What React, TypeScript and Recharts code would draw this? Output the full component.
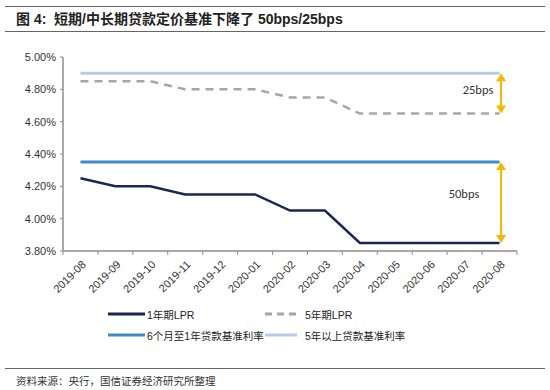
import React from 'react';
import { LineChart, Line, XAxis, YAxis, ReferenceLine } from 'recharts';

const months = ['2019-08','2019-09','2019-10','2019-11','2019-12','2020-01','2020-02','2020-03','2020-04','2020-05','2020-06','2020-07','2020-08'];
const lpr1y = [4.25,4.20,4.20,4.15,4.15,4.15,4.05,4.05,3.85,3.85,3.85,3.85,3.85];
const lpr5y = [4.85,4.85,4.85,4.80,4.80,4.80,4.75,4.75,4.65,4.65,4.65,4.65,4.65];
const base6m1y = [4.35,4.35,4.35,4.35,4.35,4.35,4.35,4.35,4.35,4.35,4.35,4.35,4.35];
const base5yPlus = [4.90,4.90,4.90,4.90,4.90,4.90,4.90,4.90,4.90,4.90,4.90,4.90,4.90];
const yTicks = [3.8, 4.0, 4.2, 4.4, 4.6, 4.8, 5.0];
const arrows = [
  { label: '25bps', from: 4.90, to: 4.65 },
  { label: '50bps', from: 4.35, to: 3.85 },
];
const labelOffsets: Record<string, { dx: number; dy: number }> = {
  '25bps': { dx: -23, dy: -2 },
  '50bps': { dx: -37, dy: -7 },
};

const data = months.map((m, i) => ({
  month: m,
  lpr1y: lpr1y[i],
  lpr5y: lpr5y[i],
  base6m1y: base6m1y[i],
  base5yPlus: base5yPlus[i],
}));

const FONT = "'Liberation Sans', Arial, 'Noto Sans CJK SC', sans-serif";
const C_NAVY = '#1b2653';
const C_GREY = '#a6a6a6';
const C_MID = '#3f8bc9';
const C_LIGHT = '#b7cbe6';
const C_YELLOW = '#f5b700';
const AXIS = '#8c8c8c';

const CHART_W = 550;
const CHART_H = 300;
const MARGIN = { top: 57, right: 33, left: 0, bottom: 0 };
const Y_W = 63;
const BAND = (CHART_W - MARGIN.right - Y_W) / months.length;

const XTick = (props: any) => {
  const { x, y, payload, index } = props;
  const half = BAND / 2;
  return (
    <g>
      <line x1={x - half} x2={x - half} y1={y} y2={y + 4} stroke={AXIS} strokeWidth={1} />
      {index === months.length - 1 && (
        <line x1={x + half} x2={x + half} y1={y} y2={y + 4} stroke={AXIS} strokeWidth={1} />
      )}
      <text
        transform={`translate(${x + 4},${y + 12}) rotate(-45)`}
        textAnchor="end"
        dominantBaseline="middle"
        fontSize={11}
        fontFamily={FONT}
        fill="#333"
      >
        {payload.value}
      </text>
    </g>
  );
};

const makeArrow = (label: string) => (props: any) => {
  const { x1, y1, x2, y2 } = props;
  const top = Math.min(y1, y2);
  const bot = Math.max(y1, y2);
  const x = x1 + 1.5;
  const h = 5;
  const w = 5;
  const off = labelOffsets[label] || { dx: -24, dy: 0 };
  return (
    <g>
      <line x1={x} x2={x} y1={top + 2} y2={bot - 2} stroke={C_YELLOW} strokeWidth={2} />
      <polygon points={`${x},${top} ${x - w},${top + h + 3} ${x + w},${top + h + 3}`} fill={C_YELLOW} />
      <polygon points={`${x},${bot} ${x - w},${bot - h - 3} ${x + w},${bot - h - 3}`} fill={C_YELLOW} />
      <text
        x={x + off.dx}
        y={(top + bot) / 2 + off.dy}
        textAnchor="middle"
        dominantBaseline="middle"
        fontSize={12.5}
        fontFamily="Carlito, 'Open Sans', sans-serif"
        fill="#333"
        stroke="none"
      >
        {label}
      </text>
    </g>
  );
};

const legendItems = [
  { name: '1年期LPR', color: C_NAVY, dash: false },
  { name: '5年期LPR', color: C_GREY, dash: true },
  { name: '6个月至1年贷款基准利率', color: C_MID, dash: false },
  { name: '5年以上贷款基准利率', color: C_LIGHT, dash: false },
];

export default function App() {
  return (
    <div
      style={{
        position: 'absolute',
        left: 0,
        top: 0,
        width: 550,
        height: 390,
        background: '#fff',
        fontFamily: FONT,
        overflow: 'hidden',
      }}
    >
      <div style={{ position: 'absolute', left: 5, right: 5, top: 6, height: 0, borderTop: '1.5px solid #666' }} />
      <div
        style={{
          position: 'absolute',
          left: 16,
          top: 11,
          fontSize: 14,
          fontWeight: 'bold',
          color: '#222',
          whiteSpace: 'nowrap',
          lineHeight: '16px',
        }}
      >
        图 4:&nbsp;&nbsp;短期/中长期贷款定价基准下降了 50bps/25bps
      </div>
      <div style={{ position: 'absolute', left: 5, right: 5, top: 31, height: 0, borderTop: '1.5px solid #666' }} />

      <div style={{ position: 'absolute', left: 0, top: 0 }}>
        <LineChart width={CHART_W} height={CHART_H} data={data} margin={MARGIN}>
          <XAxis
            dataKey="month"
            scale="band"
            interval={0}
            tickSize={0}
            tickMargin={0}
            tickLine={false}
            axisLine={{ stroke: AXIS, strokeWidth: 1.5 }}
            tick={<XTick />}
            height={CHART_H - MARGIN.top - 194}
          />
          <YAxis
            domain={[3.8, 5.0]}
            ticks={yTicks}
            width={Y_W}
            tickSize={3}
            tickMargin={4}
            axisLine={{ stroke: AXIS, strokeWidth: 1.5 }}
            tickLine={{ stroke: AXIS }}
            tick={{ fontSize: 11, fill: '#333', fontFamily: FONT }}
            tickFormatter={(v: number) => v.toFixed(2) + '%'}
          />
          <Line dataKey="base5yPlus" stroke={C_LIGHT} strokeWidth={3} dot={false} isAnimationActive={false} />
          <Line dataKey="lpr5y" stroke={C_GREY} strokeWidth={2.5} strokeDasharray="8 6" dot={false} isAnimationActive={false} />
          <Line dataKey="base6m1y" stroke={C_MID} strokeWidth={3} dot={false} isAnimationActive={false} />
          <Line dataKey="lpr1y" stroke={C_NAVY} strokeWidth={2.5} dot={false} isAnimationActive={false} />
          {arrows.map((a) => (
            <ReferenceLine
              key={a.label}
              segment={[
                { x: months[months.length - 1], y: a.from },
                { x: months[months.length - 1], y: a.to },
              ]}
              stroke={C_YELLOW}
              shape={makeArrow(a.label)}
              ifOverflow="visible"
            />
          ))}
        </LineChart>
      </div>

      {legendItems.map((it, i) => {
        const col = i % 2;
        const row = Math.floor(i / 2);
        const left = col === 0 ? 108 : 265;
        const top = row === 0 ? 307 : 328;
        const lineW = col === 0 ? 37 : 32;
        return (
          <div
            key={it.name}
            style={{ position: 'absolute', left, top, display: 'flex', alignItems: 'center', height: 14, whiteSpace: 'nowrap' }}
          >
            <svg width={lineW} height={6} style={{ display: 'block' }}>
              <line
                x1={0}
                x2={lineW}
                y1={3}
                y2={3}
                stroke={it.color}
                strokeWidth={3}
                strokeDasharray={it.dash ? '7 5' : undefined}
              />
            </svg>
            <span style={{ fontSize: 10.5, color: '#222', marginLeft: col === 1 ? 8 : 2, fontFamily: FONT }}>{it.name}</span>
          </div>
        );
      })}

      <div style={{ position: 'absolute', left: 5, right: 5, top: 368, height: 0, borderTop: '1.5px solid #666' }} />
      <div style={{ position: 'absolute', left: 16, top: 373, fontSize: 10.5, color: '#333', whiteSpace: 'nowrap' }}>
        资料来源：央行，国信证券经济研究所整理
      </div>
    </div>
  );
}
